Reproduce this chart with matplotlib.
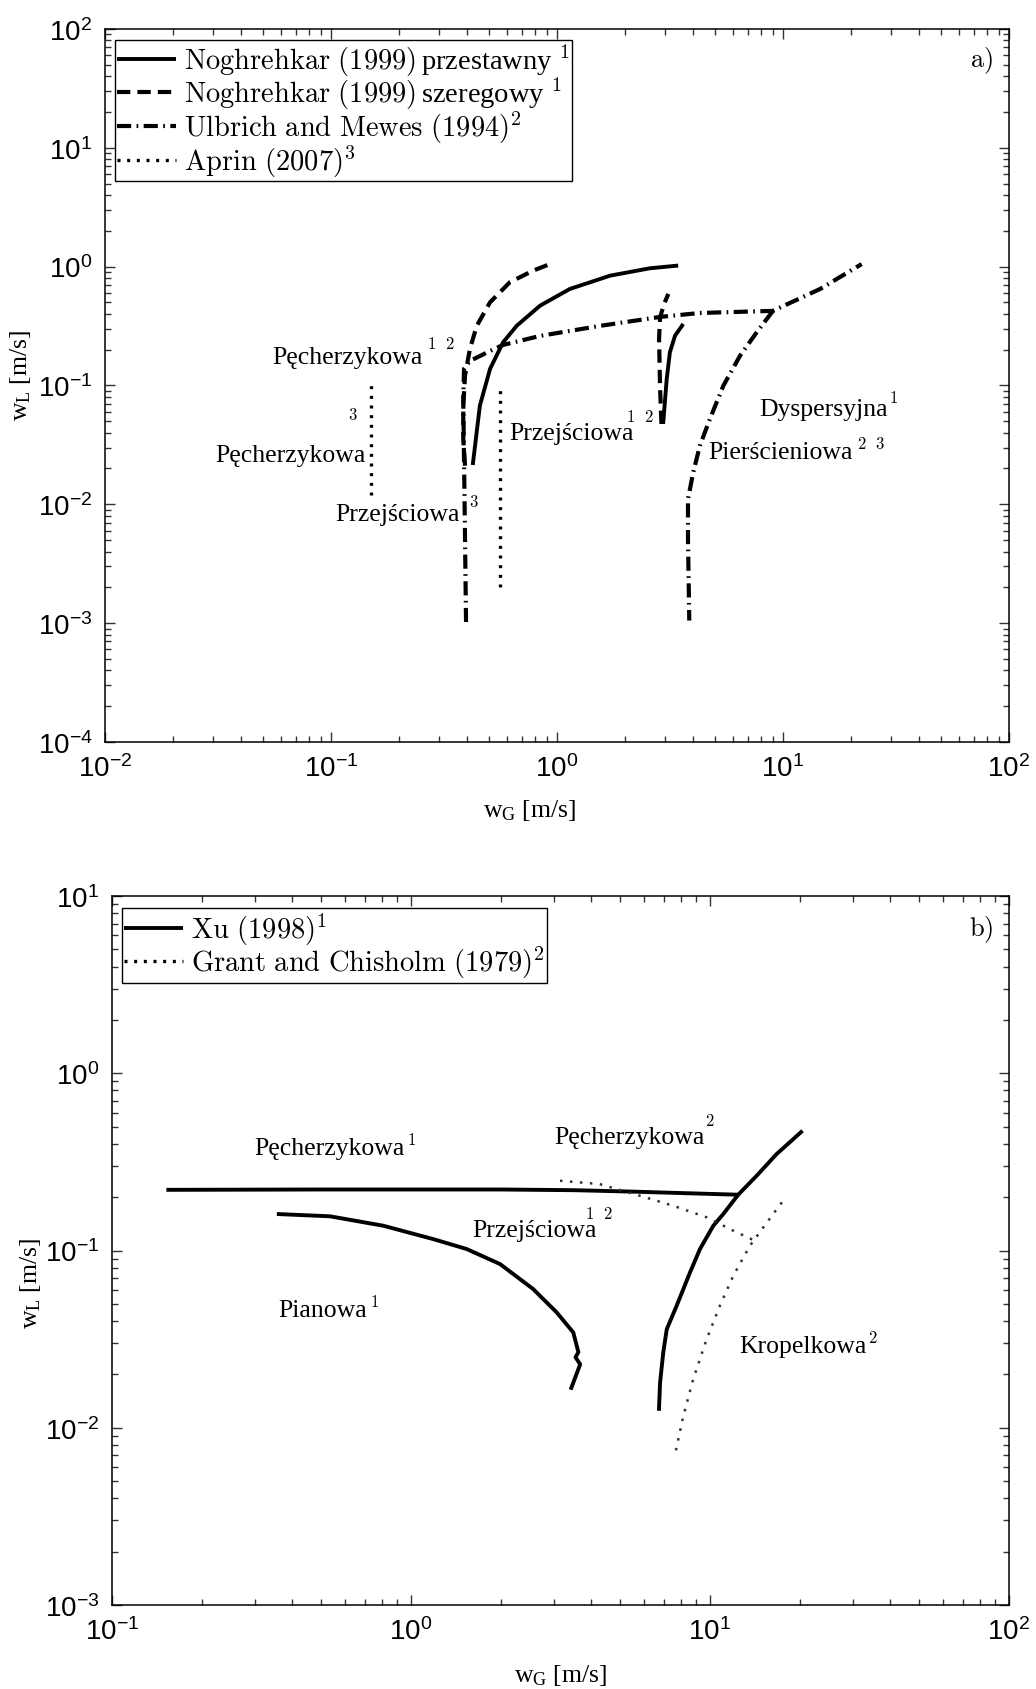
import matplotlib
matplotlib.use("Agg")
import matplotlib.pyplot as plt
from matplotlib.lines import Line2D
from matplotlib.ticker import LogLocator, NullFormatter, LogFormatterSciNotation

plt.rcParams["mathtext.fontset"] = "cm"

# ---------------- panel a) : flow-pattern boundaries ----------------
# Noghrehkar (1999), staggered bundle (solid)
nog_stag_a_wg = [0.424, 0.456, 0.506, 0.578, 0.664, 0.842, 1.14, 1.72, 2.58, 3.44]
nog_stag_a_wl = [0.0214, 0.0676, 0.138, 0.231, 0.318, 0.469, 0.648, 0.839, 0.968, 1.02]
nog_stag_b_wg = [2.95, 3.06, 3.16, 3.33, 3.62]
nog_stag_b_wl = [0.0474, 0.1135, 0.190, 0.262, 0.329]

# Noghrehkar (1999), in-line bundle (dashed)
nog_inl_a_wg = [0.392, 0.385, 0.385, 0.392, 0.412, 0.442, 0.506, 0.619, 0.785, 0.931]
nog_inl_a_wl = [0.0211, 0.0355, 0.0676, 0.121, 0.203, 0.318, 0.501, 0.739, 0.925, 1.05]
nog_inl_b_wg = [2.90, 2.86, 2.83, 2.86, 2.98, 3.11]
nog_inl_b_wl = [0.0474, 0.0934, 0.246, 0.375, 0.485, 0.589]

# Ulbrich and Mewes (1994) (dash-dot)
ulb_a_wg = [0.396, 0.392, 0.388, 0.385, 0.388, 0.412, 0.506, 0.577, 0.842, 1.55, 2.86, 4.29, 9.03, 14.6, 22.3]
ulb_a_wl = [0.00102, 0.0051, 0.024, 0.0769, 0.138, 0.1607, 0.195, 0.219, 0.261, 0.317, 0.377, 0.407, 0.424, 0.648, 1.05]
ulb_b_wg = [9.03, 7.66, 6.46, 5.45, 4.75, 4.29, 4.01, 3.80, 3.80, 3.85]
ulb_b_wl = [0.424, 0.2805, 0.178, 0.0995, 0.0522, 0.0311, 0.0186, 0.0111, 0.0051, 0.00105]

# Aprin (2007) (dotted)
aprin_a_wg = [0.15, 0.15]
aprin_a_wl = [0.012, 0.1]
aprin_b_wg = [0.56, 0.56]
aprin_b_wl = [0.002, 0.1]

legend_a = [
    r"$\mathrm{Noghrehkar\ (1999)}\,$przestawny ${}^{1}$",
    r"$\mathrm{Noghrehkar\ (1999)}\,$szeregowy ${}^{1}$",
    r"$\mathrm{Ulbrich\ and\ Mewes\ (1994)^{2}}$",
    r"$\mathrm{Aprin\ (2007)^{3}}$",
]

# region names: (text, wG, wL, alignment) -- baseline anchored
regions_a = [
    ("Pęcherzykowa", 0.0552, 0.1545, "left"),
    ("Pęcherzykowa", 0.143, 0.0233, "right"),
    ("Przejściowa", 0.1042, 0.00743, "left"),
    ("Przejściowa", 0.615, 0.0355, "left"),
    ("Dyspersyjna", 7.85, 0.0567, "left"),
    ("Pierścieniowa", 4.67, 0.0244, "left"),
]
sources_a = [
    (r"$1\ \ 2$", 0.265, 0.2056),
    (r"$3$", 0.119, 0.0522),
    (r"$3$", 0.408, 0.00973),
    (r"$1\ \ 2$", 2.03, 0.050),
    (r"$1$", 29.5, 0.0722),
    (r"$2\ \ 3$", 21.2, 0.0296),
]

# ---------------- panel b) ----------------
# Xu (1998) (solid)
xu_top_wg = [0.152, 0.5, 1.0, 2.0, 3.5, 5.5, 8.0, 12.4]
xu_top_wl = [0.220, 0.221, 0.221, 0.221, 0.219, 0.215, 0.211, 0.2065]
xu_foam_wg = [0.356, 0.536, 0.808, 1.187, 1.535, 1.985, 2.56, 3.07, 3.49, 3.63, 3.55, 3.68, 3.42]
xu_foam_wl = [0.1607, 0.156, 0.138, 0.116, 0.102, 0.0839, 0.0607, 0.0448, 0.0345, 0.0267, 0.0250, 0.0228, 0.0164]
xu_right_wg = [6.75, 6.81, 6.98, 7.17, 7.74, 8.58, 9.26, 10.26, 11.08, 12.43, 14.32, 16.7, 20.4]
xu_right_wl = [0.01247, 0.0180, 0.0267, 0.0360, 0.0489, 0.0754, 0.102, 0.138, 0.1607, 0.2065, 0.264, 0.350, 0.474]

# Grant and Chisholm (1979) (dotted)
gc_top_wg = [3.15, 4.28, 5.83, 7.53, 9.75, 11.97, 14.14]
gc_top_wl = [0.2477, 0.237, 0.2037, 0.179, 0.154, 0.1294, 0.1135]
gc_drop_wg = [17.4, 15.5, 13.6, 11.97, 10.8, 9.75, 8.79, 8.15, 7.69]
gc_drop_wl = [0.187, 0.144, 0.1064, 0.0721, 0.0489, 0.0317, 0.0188, 0.0117, 0.00743]

legend_b = [
    r"$\mathrm{Xu\ (1998)^{1}}$",
    r"$\mathrm{Grant\ and\ Chisholm\ (1979)^{2}}$",
]

regions_b = [
    ("Pęcherzykowa", 0.2985, 0.350),
    ("Przejściowa", 1.609, 0.1212),
    ("Pianowa", 0.3598, 0.0428),
    ("Pęcherzykowa", 3.01, 0.404),
    ("Kropelkowa", 12.53, 0.0267),
]
sources_b = [
    (r"$1$", 0.967, 0.399),
    (r"$1\ \ 2$", 3.82, 0.153),
    (r"$1$", 0.730, 0.0489),
    (r"$2$", 9.62, 0.5105),
    (r"$2$", 33.8, 0.0303),
]

# ---------------- styles ----------------
SERIF = "Liberation Serif"
SANS = "Liberation Sans"
solid = dict(color="black", lw=2.8, linestyle="-", solid_capstyle="butt")
dashed = dict(color="black", lw=3.0, linestyle=(0, (3.2, 1.7)), dash_capstyle="butt")
dashdot = dict(color="black", lw=3.0, linestyle=(0, (3.4, 1.3, 0.4, 1.3)), dash_capstyle="butt")
dotted = dict(color="black", lw=2.4, linestyle=(0, (0.9, 2.0)), dash_capstyle="butt")
dotted_b = dict(color="0.2", lw=1.8, linestyle=(0, (1.0, 3.0)), dash_capstyle="butt")


def style_axes(ax, xlim, ylim):
    ax.set_xscale("log")
    ax.set_yscale("log")
    ax.set_xlim(*xlim)
    ax.set_ylim(*ylim)
    for axis in (ax.xaxis, ax.yaxis):
        axis.set_major_locator(LogLocator(base=10, numticks=20))
        axis.set_minor_locator(LogLocator(base=10, subs=range(2, 10), numticks=100))
        axis.set_major_formatter(LogFormatterSciNotation())
        axis.set_minor_formatter(NullFormatter())
    ax.tick_params(which="both", direction="in", top=True, right=True, width=1.0, color="0.2")
    ax.tick_params(which="major", length=7, labelsize=20, labelfontfamily=SANS)
    ax.tick_params(which="minor", length=4)
    ax.tick_params(axis="x", which="major", pad=9)
    ax.tick_params(axis="y", which="major", pad=9)
    for sp in ax.spines.values():
        sp.set_linewidth(1.1)


def add_legend(ax, handles, labels, anchor):
    leg = ax.legend(handles, labels, loc="upper left", bbox_to_anchor=anchor,
                    borderaxespad=0, fancybox=False, framealpha=1, edgecolor="black",
                    prop=dict(family=SERIF, size=20.5), handlelength=2.05, handletextpad=0.3,
                    labelspacing=-0.08, borderpad=0.08)
    leg.get_frame().set_linewidth(1.0)
    return leg


fig = plt.figure(figsize=(10.36, 16.9), dpi=100)

# ---------- a) ----------
ax1 = fig.add_axes([0.1013, 0.5604, 0.8726, 0.4219])
style_axes(ax1, (1e-2, 1e2), (1e-4, 1e2))

ax1.plot(nog_stag_a_wg, nog_stag_a_wl, **solid)
ax1.plot(nog_stag_b_wg, nog_stag_b_wl, **solid)
ax1.plot(nog_inl_a_wg, nog_inl_a_wl, **dashed)
ax1.plot(nog_inl_b_wg, nog_inl_b_wl, **dashed)
ax1.plot(ulb_a_wg, ulb_a_wl, **dashdot)
ax1.plot(ulb_b_wg, ulb_b_wl, **dashdot)
ax1.plot(aprin_a_wg, aprin_a_wl, **dotted)
ax1.plot(aprin_b_wg, aprin_b_wl, **dotted)

for txt, x, y, ha in regions_a:
    ax1.text(x, y, txt, ha=ha, va="baseline", fontsize=18.5, family=SERIF)
for txt, x, y in sources_a:
    ax1.text(x, y, txt, ha="left", va="baseline", fontsize=12)

handles_a = [Line2D([], [], **solid), Line2D([], [], **dashed),
             Line2D([], [], **dashdot), Line2D([], [], **dotted)]
add_legend(ax1, handles_a, legend_a, (0.011, 0.985))

ax1.text(0.982, 0.947, r"$\mathrm{a)}$", transform=ax1.transAxes, ha="right",
         va="baseline", fontsize=19)

ax1.set_xlabel(r"$\mathregular{w_G}$ [m/s]", family=SERIF, fontsize=18.5)
ax1.xaxis.set_label_coords(0.47, -0.077)
ax1.set_ylabel(r"$\mathregular{w_L}$ [m/s]", family=SERIF, fontsize=18.5)
ax1.yaxis.set_label_coords(-0.080, 0.516)

# ---------- b) ----------
ax2 = fig.add_axes([0.1081, 0.0497, 0.8658, 0.4195])
style_axes(ax2, (1e-1, 1e2), (1e-3, 1e1))

ax2.plot(xu_top_wg, xu_top_wl, **solid)
ax2.plot(xu_foam_wg, xu_foam_wl, **solid)
ax2.plot(xu_right_wg, xu_right_wl, **solid)
ax2.plot(gc_top_wg, gc_top_wl, **dotted_b)
ax2.plot(gc_drop_wg, gc_drop_wl, **dotted_b)

for txt, x, y in regions_b:
    ax2.text(x, y, txt, ha="left", va="baseline", fontsize=18.5, family=SERIF)
for txt, x, y in sources_b:
    ax2.text(x, y, txt, ha="left", va="baseline", fontsize=12)

handles_b = [Line2D([], [], **solid), Line2D([], [], **dotted)]
add_legend(ax2, handles_b, legend_b, (0.011, 0.983))

ax2.text(0.982, 0.945, r"$\mathrm{b)}$", transform=ax2.transAxes, ha="right",
         va="baseline", fontsize=19)

ax2.set_xlabel(r"$\mathregular{w_G}$ [m/s]", family=SERIF, fontsize=18.5)
ax2.xaxis.set_label_coords(0.5, -0.080)
ax2.set_ylabel(r"$\mathregular{w_L}$ [m/s]", family=SERIF, fontsize=18.5)
ax2.yaxis.set_label_coords(-0.077, 0.455)

fig.savefig("out.png", dpi=100)
